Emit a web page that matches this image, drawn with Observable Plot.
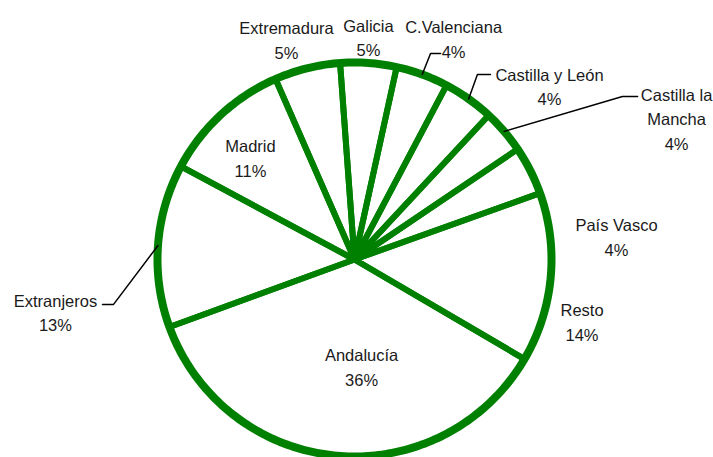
<!DOCTYPE html>
<html>
<head>
<meta charset="utf-8">
<script src="https://cdn.jsdelivr.net/npm/d3@7"></script>
<script src="https://cdn.jsdelivr.net/npm/@observablehq/plot@0.6"></script>
<style>
  html, body { margin: 0; padding: 0; background: #fff; overflow: hidden; }
  #chart svg { display: block; }
</style>
</head>
<body>
<div id="chart"></div>
<script>
// ---- data (clockwise from the top) ----
const regions = ["Galicia", "C.Valenciana", "Castilla y León", "Castilla la Mancha", "País Vasco",
                 "Resto", "Andalucía", "Extranjeros", "Madrid", "Extremadura"];
const shares = [4.6, 4.3, 4.2, 3.6, 4.0, 13.9, 36.0, 13.4, 10.6, 5.4];
const displayNames = ["Galicia", "C.Valenciana", "Castilla y León", "Castilla la\nMancha", "País Vasco",
                      "Resto", "Andalucía", "Extranjeros", "Madrid", "Extremadura"];

// ---- layout (unit-circle coordinates) ----
const labelX = [0.071, 0.503, 0.990, 1.635, 1.330, 1.155, 0.036, -1.518, -0.528, -0.345];
const labelY = [1.133, 1.125, 0.886, 0.721, 0.122, -0.309, -0.540, -0.263, 0.521, 1.122];
const leaderOf = ["C.Valenciana", "Castilla y León", "Castilla la Mancha", "Extranjeros"];
const leaderStartX = [0.437, 0.690, 1.437, -1.279];
const leaderElbowX = [0.386, 0.624, 1.360, -1.223];
const leaderY = [1.046, 0.939, 0.827, -0.228];

const green = "#008000";
const startDeg = -4.2;

const table = regions.map((r, i) => ({region: r, share: shares[i], name: displayNames[i],
  lx: labelX[i], ly: labelY[i]}));

const start = startDeg * Math.PI / 180;
const arcs = d3.pie().sort(null).value(d => d.share).startAngle(start).endAngle(start + 2 * Math.PI)(table);

// slice outlines: center -> arc -> back to center
const slicePts = [];
for (const a of arcs) {
  slicePts.push({region: a.data.region, x: 0, y: 0});
  const n = Math.max(2, Math.ceil((a.endAngle - a.startAngle) / (Math.PI / 180)));
  for (let k = 0; k <= n; k++) {
    const t = a.startAngle + (a.endAngle - a.startAngle) * k / n;
    slicePts.push({region: a.data.region, x: Math.sin(t), y: Math.cos(t)});
  }
}
const ringPts = d3.range(0, 360, 1).map(d => ({x: Math.sin(d * Math.PI / 180), y: Math.cos(d * Math.PI / 180)}));

const midAngle = new Map(arcs.map(a => [a.data.region, (a.startAngle + a.endAngle) / 2]));
const leaderPts = [];
leaderOf.forEach((r, i) => {
  const m = midAngle.get(r);
  leaderPts.push({region: r, x: leaderStartX[i], y: leaderY[i]});
  leaderPts.push({region: r, x: leaderElbowX[i], y: leaderY[i]});
  leaderPts.push({region: r, x: Math.sin(m), y: Math.cos(m)});
});

const chart = Plot.plot({
  width: 713,
  height: 457,
  marginLeft: 157,
  marginRight: 162,
  marginTop: 62,
  marginBottom: 1,
  x: {domain: [-1, 1], axis: null},
  y: {domain: [-1, 1], axis: null},
  style: {background: "#fff", overflow: "visible"},
  marks: [
    Plot.line(slicePts, {x: "x", y: "y", z: "region", curve: "linear-closed",
      stroke: green, strokeWidth: 6, strokeLinejoin: "miter", fill: "none"}),
    Plot.line(ringPts, {x: "x", y: "y", curve: "linear-closed", stroke: green, strokeWidth: 8, fill: "none"}),
    Plot.line(leaderPts, {x: "x", y: "y", z: "region", stroke: "#000", strokeWidth: 1.5}),
    Plot.text(table, {x: "lx", y: "ly", text: d => d.name + "\n" + Math.round(d.share) + "%",
      fontFamily: "Liberation Sans", fontSize: 16.5, lineHeight: 1.49, fill: "#1a1a1a",
      textAnchor: "middle", lineAnchor: "middle"})
  ]
});
document.getElementById("chart").appendChild(chart);
</script>
</body>
</html>
